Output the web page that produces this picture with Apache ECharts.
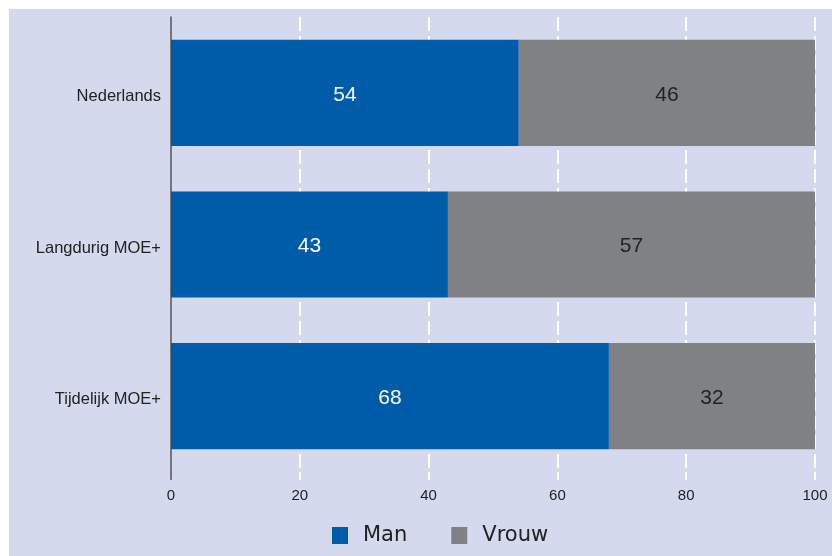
<!DOCTYPE html>
<html>
<head>
<meta charset="utf-8">
<script src="https://cdn.jsdelivr.net/npm/echarts@6/dist/echarts.min.js"></script>
<style>
html,body{margin:0;padding:0;background:#ffffff;}
#bg{position:absolute;left:9px;top:9px;width:823px;height:547px;background:#d4d9ee;}
#chart{position:absolute;left:0;top:0;width:832px;height:556px;}
</style>
</head>
<body>
<div id="bg"></div>
<div id="chart"></div>
<script>
var categories = ['Nederlands', 'Langdurig MOE+', 'Tijdelijk MOE+'];
var manValues = [54, 43, 68];
var vrouwValues = [46, 57, 32];
var xTicks = [0, 20, 40, 60, 80, 100];
var seriesNames = ['Man', 'Vrouw'];

var chart = echarts.init(document.getElementById('chart'), null, {renderer: 'canvas'});
var font = 'Liberation Sans, Arial, sans-serif';
chart.setOption({
  backgroundColor: 'transparent',
  animation: false,
  textStyle: {fontFamily: font},
  grid: {left: 171, right: 17, top: 17, bottom: 84, containLabel: false},
  legend: {
    data: seriesNames,
    left: 327,
    top: 520,
    icon: 'rect',
    itemWidth: 16,
    itemHeight: 17,
    itemGap: 44,
    textStyle: {fontSize: 21, color: '#222', fontFamily: 'DejaVu Sans, sans-serif', padding: [0, 0, 0, 10]}
  },
  xAxis: [{
    type: 'value',
    min: xTicks[0],
    max: xTicks[xTicks.length - 1],
    interval: 20,
    axisLine: {show: false},
    axisTick: {show: true, length: 8, customValues: xTicks.slice(1), lineStyle: {color: '#ffffff', width: 2}},
    axisLabel: {margin: 16, fontSize: 15, color: '#222', fontFamily: font},
    splitLine: {show: true, lineStyle: {color: '#ffffff', width: 2, type: [14, 5]}}
  }, {
    type: 'value',
    position: 'bottom',
    min: xTicks[0],
    max: xTicks[xTicks.length - 1],
    interval: 20,
    axisLine: {show: false},
    axisTick: {show: true, length: 8, customValues: [xTicks[0]], lineStyle: {color: '#555559', width: 1.5}},
    axisLabel: {show: false},
    splitLine: {show: false}
  }],
  yAxis: {
    type: 'category',
    data: categories,
    inverse: true,
    axisLine: {show: true, lineStyle: {color: '#555559', width: 1.5}},
    axisTick: {show: false},
    axisLabel: {
      margin: 10,
      formatter: function (v) { return '{c|' + v + '}'; },
      rich: {c: {fontSize: 16.5, color: '#222', fontFamily: font, padding: [7, 0, 0, 0]}}
    },
    splitLine: {show: false}
  },
  series: [{
    name: seriesNames[0],
    type: 'bar',
    stack: 'total',
    data: manValues,
    barCategoryGap: '30%',
    itemStyle: {color: '#005ca9'},
    label: {show: true, position: 'inside', offset: [0, 2], color: '#ffffff', fontSize: 21, fontFamily: font}
  }, {
    name: seriesNames[1],
    type: 'bar',
    stack: 'total',
    data: vrouwValues,
    barCategoryGap: '30%',
    itemStyle: {color: '#808184'},
    label: {show: true, position: 'inside', offset: [0, 2], color: '#222', fontSize: 21, fontFamily: font}
  }]
});
</script>
</body>
</html>
